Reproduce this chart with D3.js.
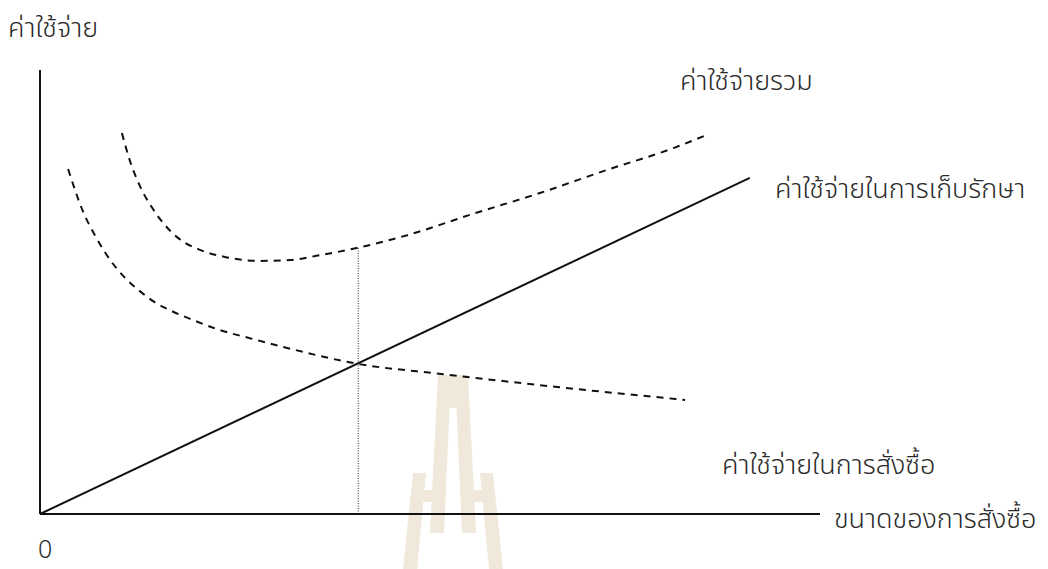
<!DOCTYPE html>
<html>
<head>
<meta charset="utf-8">
<script src="https://cdn.jsdelivr.net/npm/d3@7"></script>
<style>
  body { margin: 0; background: #fff; }
  text { font-family: "Noto Sans Thai", "Loma", "Garuda", "Noto Sans", sans-serif; fill: #2a2a2a; font-weight: 300; }
</style>
</head>
<body>
<div id="chart"></div>
<script>
// order size (x) and cost (y), both on a 0-100 scale
var holdingX = [0, 91.0];
var holdingY = [0, 75.7];

var orderingX = [3.6, 5.5, 7.1, 9.0, 10.9, 12.8, 14.7, 16.3, 19.6, 23.1, 26.9, 30.8, 40.8, 51.7, 66.3, 82.7];
var orderingY = [77.7, 68.2, 62.6, 57.2, 53.2, 50.2, 47.7, 46.2, 43.7, 41.4, 39.6, 37.8, 33.8, 31.5, 28.6, 25.7];

var totalX = [10.5, 11.5, 12.8, 14.4, 16.0, 17.9, 20.5, 23.7, 28.2, 32.1, 35.9, 40.6, 47.1, 55.5, 64.1, 72.7, 81.2, 85.5];
var totalY = [85.8, 79.7, 73.9, 68.9, 65.1, 61.9, 59.5, 57.9, 57.0, 57.2, 58.3, 59.9, 62.8, 67.6, 72.3, 77.5, 82.4, 85.4];

var eoqX = 40.8;
var eoqY = 59.9;

var labels = {
  yTitle:   "ค่าใช้จ่าย",
  xTitle:   "ขนาดของการสั่งซื้อ",
  total:    "ค่าใช้จ่ายรวม",
  holding:  "ค่าใช้จ่ายในการเก็บรักษา",
  ordering: "ค่าใช้จ่ายในการสั่งซื้อ",
  origin:   "0"
};

var W = 1048, H = 569;

var svg = d3.select("#chart").append("svg")
  .attr("width", W)
  .attr("height", H);

var x = d3.scaleLinear().domain([0, 100]).range([40, 820]);
var y = d3.scaleLinear().domain([0, 100]).range([514, 70]);

// faint university watermark behind the plot
var wm = svg.append("g")
  .attr("transform", "translate(453,375)")
  .attr("fill", "#f0e9db");
wm.append("rect").attr("x", -15).attr("y", 0).attr("width", 30).attr("height", 33);
wm.append("polygon").attr("points", "-15,0 -2,0 -9,158 -23,158");
wm.append("polygon").attr("points", "2,0 15,0 23,158 9,158");
wm.append("polygon").attr("points", "-40,98 -27,98 -36,194 -50,194");
wm.append("polygon").attr("points", "27,98 40,98 50,194 36,194");
wm.append("rect").attr("x", -30).attr("y", 115).attr("width", 16).attr("height", 12);
wm.append("rect").attr("x", 14).attr("y", 115).attr("width", 16).attr("height", 12);

// axes
svg.append("line")
  .attr("x1", x(0)).attr("y1", y(0))
  .attr("x2", x(100)).attr("y2", y(0))
  .attr("stroke", "#111").attr("stroke-width", 2);

svg.append("line")
  .attr("x1", x(0)).attr("y1", y(0))
  .attr("x2", x(0)).attr("y2", y(100))
  .attr("stroke", "#111").attr("stroke-width", 2);

var line = d3.line()
  .x(function(d) { return x(d[0]); })
  .y(function(d) { return y(d[1]); })
  .curve(d3.curveMonotoneX);

// EOQ drop line
svg.append("line")
  .attr("x1", x(eoqX)).attr("y1", y(0))
  .attr("x2", x(eoqX)).attr("y2", y(eoqY))
  .attr("stroke", "#222").attr("stroke-width", 1)
  .attr("stroke-dasharray", "1,1.5");

// holding cost
svg.append("path")
  .datum(d3.zip(holdingX, holdingY))
  .attr("d", line)
  .attr("fill", "none")
  .attr("stroke", "#111")
  .attr("stroke-width", 2);

// ordering cost
svg.append("path")
  .datum(d3.zip(orderingX, orderingY))
  .attr("d", line)
  .attr("fill", "none")
  .attr("stroke", "#111")
  .attr("stroke-width", 2)
  .attr("stroke-dasharray", "7,6");

// total cost
svg.append("path")
  .datum(d3.zip(totalX, totalY))
  .attr("d", line)
  .attr("fill", "none")
  .attr("stroke", "#111")
  .attr("stroke-width", 2)
  .attr("stroke-dasharray", "7,6");

// labels
var fs = 27;
svg.append("text").attr("x", 8).attr("y", 37).attr("font-size", fs).text(labels.yTitle);
svg.append("text").attr("x", 680).attr("y", 90).attr("font-size", fs).text(labels.total);
svg.append("text").attr("x", 775).attr("y", 198).attr("font-size", fs).text(labels.holding);
svg.append("text").attr("x", 722).attr("y", 474).attr("font-size", fs).text(labels.ordering);
svg.append("text").attr("x", 834).attr("y", 528).attr("font-size", fs).text(labels.xTitle);
svg.append("text").attr("x", 38).attr("y", 558).attr("font-size", 25).text(labels.origin);
</script>
</body>
</html>
